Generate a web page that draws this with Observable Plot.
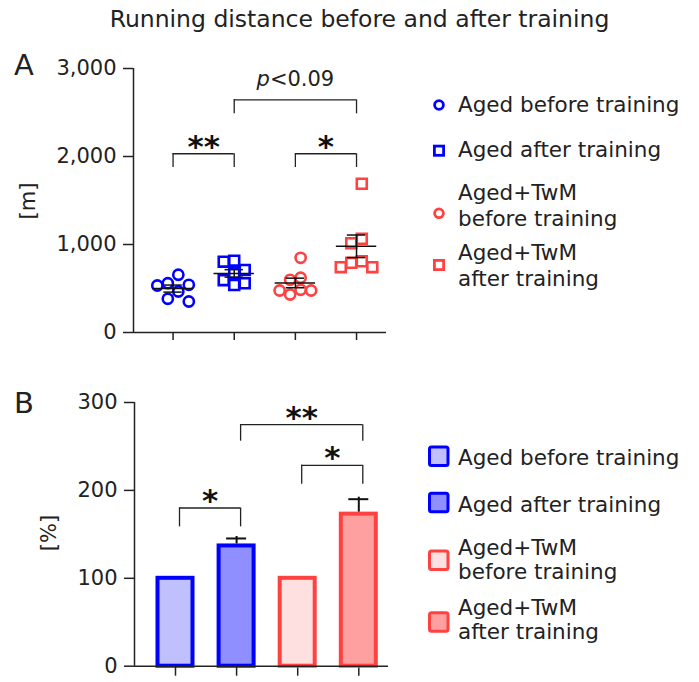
<!DOCTYPE html>
<html><head><meta charset="utf-8">
<script src="https://cdn.jsdelivr.net/npm/d3@7"></script>
<script src="https://cdn.jsdelivr.net/npm/@observablehq/plot@0.6"></script>
<style>
body{margin:0;background:#fff;}
#wrap{position:relative;width:699px;height:682px;overflow:hidden;font-family:"DejaVu Sans",sans-serif;}
#wrap > svg{position:absolute;}
</style></head><body><div id="wrap"></div>
<script>
// ---------- data ----------
const groups = ["Aged before training", "Aged after training", "Aged+TwM before training", "Aged+TwM after training"];
const agedBefore = [656, 534, 560, 542, 466, 352, 383];
const agedAfter = [816, 805, 710, 675, 540, 560, 595];
const twmBefore = [849, 599, 622, 432, 485, 477, 477];
const twmAfter = [1690, 1015, 1065, 742, 810, 742, 792];
const pctMean = [100, 136.8, 100, 173];
const pctSem = [0, 8.5, 0, 17];
const yTicksA = [0, 1000, 2000, 3000];
const yTicksB = [0, 100, 200, 300];
const groupTicks = [1, 2, 3, 4];
// significance annotations (group from, group to, bracket level, leg end, label)
const sigFromA = [1, 3, 2], sigToA = [2, 4, 4], sigLevelA = [2031, 2031, 2644], sigLegA = [1875, 1875, 2485], sigLabelA = ["**", "*", "p<0.09"];
const sigFromB = [1, 3, 2], sigToB = [2, 4, 4], sigLevelB = [180, 228.5, 274.8], sigLegB = [158.5, 207, 256], sigLabelB = ["*", "*", "**"];
const legendTitles = [["Aged before training"], ["Aged after training"], ["Aged+TwM", "before training"], ["Aged+TwM", "after training"]];

// ---------- styles ----------
const BLUE = "#0000ff", RED = "#ff4141";
const strokes = [BLUE, BLUE, RED, RED];
const fills = ["#c0c0ff", "#8f8fff", "#ffe0e0", "#ffa0a0"];
const INK = "#222";
const FONT = "DejaVu Sans";

const wrap = document.getElementById("wrap");

// ---------- panel A ----------
const A = {width: 410, height: 320, ml: 133, mr: 24, mt: 28, mb: 28, top: 40, xd: [0.353, 4.49]};
const pxPerGroupA = (A.width - A.ml - A.mr) / (A.xd[1] - A.xd[0]);
const pxPerUnitA = (A.height - A.mt - A.mb) / 3000;
const slotX = 10.5 / pxPerGroupA;

function swarm(values) {
  const order = d3.range(values.length).sort((i, j) => values[j] - values[i]);
  const placed = [], slots = new Array(values.length);
  for (const i of order) {
    const y = values[i] * pxPerUnitA;
    for (const s of [0, -1, 1, -2, 2, -3, 3]) {
      if (placed.every(p => p.s !== s || Math.abs(p.y - y) >= 11.5)) { slots[i] = s; placed.push({s, y}); break; }
    }
  }
  const shift = -(d3.min(slots) + d3.max(slots)) / 2;
  return slots.map(s => s + shift);
}

const seriesA = [agedBefore, agedAfter, twmBefore, twmAfter];
const pts = seriesA.flatMap((vals, gi) => {
  const sl = swarm(vals);
  return vals.map((v, i) => ({g: gi + 1, v, x: gi + 1 + sl[i] * slotX, color: strokes[gi], square: gi % 2 === 1}));
});
const stats = seriesA.map((vals, gi) => {
  const m = d3.mean(vals), s = d3.deviation(vals) / Math.sqrt(vals.length);
  return {g: gi + 1, m, lo: m - s, hi: m + s};
});
const sigA = sigLabelA.map((t, i) => ({a: sigFromA[i], b: sigToA[i], y: sigLevelA[i], leg: sigLegA[i], t}));

const plotA = Plot.plot({
  width: A.width, height: A.height,
  marginLeft: A.ml, marginRight: A.mr, marginTop: A.mt, marginBottom: A.mb,
  x: {domain: A.xd, axis: null},
  y: {domain: [0, 3000], axis: null, label: null},
  color: {type: "identity"},
  style: {fontFamily: FONT, fontSize: "21px", color: INK, background: "transparent", overflow: "visible"},
  marks: [
    Plot.axisY(yTicksA, {tickSize: 10, tickPadding: 7, tickFormat: d3.format(","), fontSize: 21, strokeWidth: 1.5, label: null}),
    Plot.axisX(groupTicks, {tickSize: 8, tickFormat: () => "", strokeWidth: 1.5, label: null}),
    Plot.ruleY([0], {stroke: INK, strokeWidth: 1.5}),
    Plot.ruleX([A.xd[0]], {stroke: INK, strokeWidth: 1.5}),
    // brackets
    Plot.ruleY(sigA, {y: "y", x1: "a", x2: "b", stroke: INK, strokeWidth: 1.3}),
    Plot.ruleX(sigA, {x: "a", y1: "leg", y2: "y", stroke: INK, strokeWidth: 1.3}),
    Plot.ruleX(sigA, {x: "b", y1: "leg", y2: "y", stroke: INK, strokeWidth: 1.3}),
    Plot.text(sigA.filter(d => d.t.startsWith("*")), {x: d => (d.a + d.b) / 2, y: "y", text: "t", lineAnchor: "bottom", dy: 3, fontSize: 31, fontWeight: "bold", fill: "#111"}),
    Plot.text(sigA.filter(d => !d.t.startsWith("*")), {x: d => (d.a + d.b) / 2, y: "y", text: "t", lineAnchor: "bottom", dy: -14, fontSize: 21, fill: INK}),
    // points
    Plot.dot(pts.filter(d => !d.square), {x: "x", y: "v", r: 5.1, stroke: "color", strokeWidth: 2.6, fill: "none"}),
    Plot.dot(pts.filter(d => d.square), {x: "x", y: "v", r: 5.6, symbol: "square", stroke: "color", strokeWidth: 2.6, fill: "none"}),
    // mean +/- SEM
    Plot.ruleY(stats, {y: "m", x1: d => d.g - 0.33, x2: d => d.g + 0.33, stroke: "#111", strokeWidth: 1.5}),
    Plot.ruleX(stats, {x: "g", y1: "lo", y2: "hi", stroke: "#111", strokeWidth: 1.5}),
    Plot.ruleY(stats, {y: "lo", x1: d => d.g - 0.15, x2: d => d.g + 0.15, stroke: "#111", strokeWidth: 1.5}),
    Plot.ruleY(stats, {y: "hi", x1: d => d.g - 0.15, x2: d => d.g + 0.15, stroke: "#111", strokeWidth: 1.5})
  ]
});
plotA.style.left = "0px"; plotA.style.top = A.top + "px";
wrap.appendChild(plotA);
// italic p
d3.select(plotA).selectAll("text").each(function () {
  if (this.textContent === "p<0.09") {
    this.textContent = "";
    d3.select(this).append("tspan").attr("font-style", "italic").text("p");
    d3.select(this).append("tspan").text("<0.09");
  }
});

// ---------- panel B ----------
const B = {width: 410, height: 300, ml: 134, mr: 22, mt: 22, mb: 14.3, top: 380, xd: [0.329, 4.486]};
const pxPerGroupB = (B.width - B.ml - B.mr) / (B.xd[1] - B.xd[0]);
const barHalf = 17.5 / pxPerGroupB, capHalf = 10 / pxPerGroupB, sigShift = 4;
const bars = pctMean.map((v, i) => ({g: i + 1, v, e: pctSem[i], fill: fills[i], stroke: strokes[i]}));
const sigB = sigLabelB.map((t, i) => ({a: sigFromB[i], b: sigToB[i], y: sigLevelB[i], leg: sigLegB[i], t}));

const plotB = Plot.plot({
  width: B.width, height: B.height,
  marginLeft: B.ml, marginRight: B.mr, marginTop: B.mt, marginBottom: B.mb,
  x: {domain: B.xd, axis: null},
  y: {domain: [0, 300], axis: null, label: null},
  color: {type: "identity"},
  style: {fontFamily: FONT, fontSize: "21px", color: INK, background: "transparent", overflow: "visible"},
  marks: [
    Plot.axisY(yTicksB, {tickSize: 10, tickPadding: 7, fontSize: 21, strokeWidth: 1.5, label: null}),
    Plot.axisX(groupTicks, {tickSize: 10, tickFormat: () => "", strokeWidth: 1.5, label: null}),
    Plot.rectY(bars, {x1: d => d.g - barHalf, x2: d => d.g + barHalf, y1: 0, y2: "v", fill: "fill", stroke: "stroke", strokeWidth: 4}),
    Plot.ruleX(bars.filter(d => d.e > 0), {x: "g", y1: "v", y2: d => d.v + d.e, stroke: "#111", strokeWidth: 2, dy: -2}),
    Plot.ruleY(bars.filter(d => d.e > 0), {y: d => d.v + d.e, x1: d => d.g - capHalf, x2: d => d.g + capHalf, stroke: "#111", strokeWidth: 2}),
    Plot.ruleY([0], {stroke: INK, strokeWidth: 1.5}),
    Plot.ruleX([B.xd[0]], {stroke: INK, strokeWidth: 1.5}),
    Plot.ruleY(sigB, {y: "y", x1: "a", x2: "b", dx: sigShift, stroke: INK, strokeWidth: 1.3}),
    Plot.ruleX(sigB, {x: "a", y1: "leg", y2: "y", dx: sigShift, stroke: INK, strokeWidth: 1.3}),
    Plot.ruleX(sigB, {x: "b", y1: "leg", y2: "y", dx: sigShift, stroke: INK, strokeWidth: 1.3}),
    Plot.text(sigB, {x: d => (d.a + d.b) / 2, y: "y", text: "t", dx: sigShift, lineAnchor: "bottom", dy: 3, fontSize: 31, fontWeight: "bold", fill: "#111"})
  ]
});
plotB.style.left = "0px"; plotB.style.top = B.top + "px";
wrap.appendChild(plotB);

// ---------- titles, letters, legends ----------
const ov = d3.select(wrap).append("svg").attr("width", 699).attr("height", 682)
  .style("left", "0px").style("top", "0px").attr("font-family", FONT).attr("fill", INK);
ov.append("text").attr("x", 359.5).attr("y", 27).attr("text-anchor", "middle").attr("font-size", 23.5)
  .text("Running distance before and after training");
ov.append("text").attr("x", 14).attr("y", 75).attr("font-size", 29).text("A");
ov.append("text").attr("x", 14).attr("y", 413).attr("font-size", 29).text("B");
ov.append("text").attr("transform", "translate(28,201) rotate(-90)").attr("text-anchor", "middle")
  .attr("dy", "0.32em").attr("font-size", 21).text("[m]");
ov.append("text").attr("transform", "translate(49,533) rotate(-90)").attr("text-anchor", "middle")
  .attr("dy", "0.32em").attr("font-size", 21).text("[%]");

// legend A
const legA = [{my: 105, base: [112]}, {my: 150.7, base: [157]}, {my: 213.3, base: [200, 225.7]}, {my: 265, base: [260, 285.5]}];
legA.forEach((L, i) => {
  if (i % 2 === 0) ov.append("circle").attr("cx", 439).attr("cy", L.my).attr("r", 4.4).attr("fill", "none").attr("stroke", strokes[i]).attr("stroke-width", 2.8);
  else ov.append("rect").attr("x", 434.4).attr("y", L.my - 4.6).attr("width", 9.2).attr("height", 9.2).attr("fill", "none").attr("stroke", strokes[i]).attr("stroke-width", 2.8);
  legendTitles[i].forEach((t, k) => ov.append("text").attr("x", 458).attr("y", L.base[k]).attr("font-size", 21.5).text(t));
});
// legend B
const legB = [{my: 456, base: [465]}, {my: 502.3, base: [511.7]}, {my: 560, base: [555, 578.5]}, {my: 621.7, base: [615, 638.5]}];
legB.forEach((L, i) => {
  ov.append("rect").attr("x", 429.5).attr("y", L.my - 9).attr("width", 18.5).attr("height", 18.5).attr("rx", 2)
    .attr("fill", fills[i]).attr("stroke", strokes[i]).attr("stroke-width", 3);
  legendTitles[i].forEach((t, k) => ov.append("text").attr("x", 458).attr("y", L.base[k]).attr("font-size", 21.5).text(t));
});
</script></body></html>
